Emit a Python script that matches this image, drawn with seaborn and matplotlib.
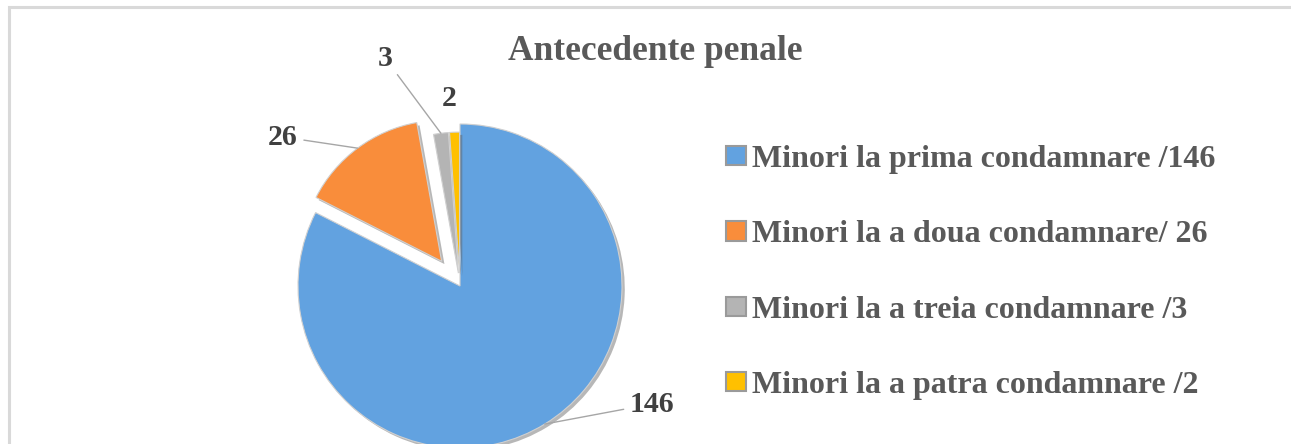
import numpy as np
import pandas as pd
import matplotlib
matplotlib.use("Agg")
import matplotlib.pyplot as plt
import matplotlib.patheffects as pe
from matplotlib.patches import Patch, Rectangle
import seaborn as sns

# data
categories = ["Minori la prima condamnare /146",
              "Minori la a doua condamnare/ 26",
              "Minori la a treia condamnare /3",
              "Minori la a patra condamnare /2"]
values = [146, 26, 3, 2]
value_labels = ["146", "26", "3", "2"]
colors = ["#62A2E0", "#F98D3B", "#B4B4B4", "#FFC000"]

sns.set_theme(style="white")
plt.rcParams["font.family"] = ["Liberation Serif", "DejaVu Serif"]
plt.rcParams["font.weight"] = "bold"

W, H = 1291, 444
fig = plt.figure(figsize=(W / 100, H / 100), dpi=100)
fig.patch.set_facecolor("white")

# chart frame (only top and left visible in the crop)
fig.add_artist(Rectangle((9 / W, -0.2), 1.2, 1.2 - 7 / H, transform=fig.transFigure,
                         fill=False, ec="#d9d9d9", lw=2.2))

# pie axes: 1 data unit = 162 px, centre at (460, 286) px
R = 162.0
cx, cy = 460.0, 286.0
ax = fig.add_axes([0, 0, 920 / W, 1])
wedges, _ = ax.pie(values, colors=colors, startangle=90, counterclock=False,
                   explode=[0.0, 0.19, 0.08, 0.08], radius=1,
                   wedgeprops=dict(edgecolor="#d0d0d0", linewidth=0.8))
# exploded slices are drawn a bit smaller, like in the original
for w in wedges[1:]:
    w.set_radius(0.87)
for w in wedges:
    w.set_path_effects([pe.SimplePatchShadow(offset=(2, -2), shadow_rgbFace="#606060", alpha=0.45),
                        pe.Normal()])
ax.set_aspect("auto")
ax.set_xlim(-cx / R, (920 - cx) / R)
ax.set_ylim(-(H - cy) / R, cy / R)
ax.axis("off")

# data labels (text positions in pixels from the reference)
label_px = [(652, 404), (283, 137), (385, 58), (449, 98)]
with_leader = [True, True, True, False]
for w, txt, (px, py), lead in zip(wedges, value_labels, label_px, with_leader):
    mid = np.deg2rad((w.theta1 + w.theta2) / 2)
    xy = (w.center[0] + w.r * np.cos(mid), w.center[1] + w.r * np.sin(mid))
    tx, ty = (px - cx) / R, (cy - py) / R
    if lead:
        ax.annotate(txt, xy=xy, xytext=(tx, ty), ha="center", va="center",
                    fontsize=21.5, fontweight="bold", color="#404040",
                    arrowprops=dict(arrowstyle="-", color="#a6a6a6", lw=1,
                                    shrinkA=2, shrinkB=0))
    else:
        ax.text(tx, ty, txt, ha="center", va="center", fontsize=21.5,
                fontweight="bold", color="#404040")

fig.text(655 / W, 1 - 51 / H, "Antecedente penale", ha="center", va="center",
         fontsize=25.5, fontweight="bold", color="#595959")

handles = [Patch(facecolor=c, edgecolor="#9a9a9a", linewidth=1.5) for c in colors]
leg = fig.legend(handles, categories, loc="upper left",
                 bbox_to_anchor=(726 / W, 1 - 145 / H), frameon=False,
                 fontsize=23, labelspacing=1.45, handlelength=0.62,
                 handleheight=0.55, handletextpad=0.2, borderaxespad=0,
                 borderpad=0)
for t in leg.get_texts():
    t.set_color("#595959")
    t.set_fontweight("bold")

fig.savefig("out.png", dpi=100, facecolor="white")
